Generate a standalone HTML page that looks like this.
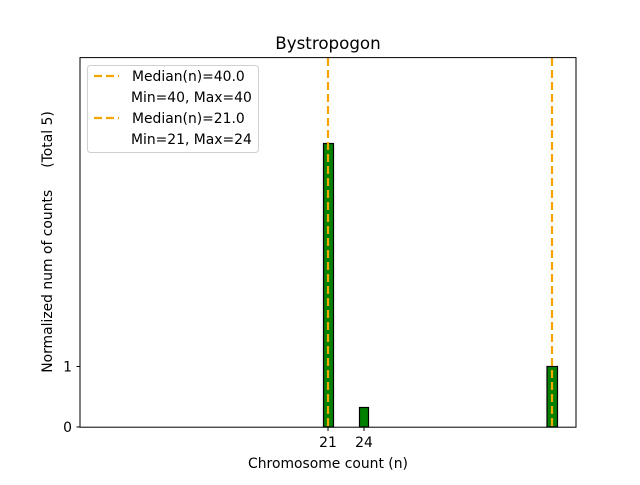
<!DOCTYPE html>
<html><head><meta charset="utf-8"><style>
html,body{margin:0;padding:0;background:#fff}
svg text{font-family:"DejaVu Sans","Liberation Sans",sans-serif;fill:#000}
</style></head><body>
<svg width="640" height="480" viewBox="0 0 640 480" xmlns="http://www.w3.org/2000/svg">
<rect width="640" height="480" fill="#fff"/>
<text x="328" y="49" font-size="16.7" text-anchor="middle">Bystropogon</text>
<!-- bars -->
<rect x="323.5" y="143.5" width="10" height="283.5" fill="#008000" stroke="#000" stroke-width="1.2"/>
<rect x="359.5" y="407.5" width="9" height="19.5" fill="#008000" stroke="#000" stroke-width="1.2"/>
<rect x="547" y="366.5" width="10.5" height="60.5" fill="#008000" stroke="#000" stroke-width="1.2"/>
<!-- median lines -->
<line x1="328" y1="58" x2="328" y2="427" stroke="#f5a700" stroke-width="2.2" stroke-dasharray="8,4"/>
<line x1="552" y1="58" x2="552" y2="427" stroke="#f5a700" stroke-width="2.2" stroke-dasharray="8,4"/>
<!-- axes -->
<rect x="80" y="57.6" width="496" height="369.6" fill="none" stroke="#000" stroke-width="1"/>
<!-- y ticks -->
<line x1="76.5" y1="427" x2="80" y2="427" stroke="#000"/>
<line x1="76.5" y1="366.5" x2="80" y2="366.5" stroke="#000"/>
<text x="72" y="432" font-size="13.9" text-anchor="end">0</text>
<text x="72" y="371.5" font-size="13.9" text-anchor="end">1</text>
<!-- x ticks -->
<line x1="328" y1="427" x2="328" y2="431" stroke="#000"/>
<line x1="364" y1="427" x2="364" y2="431" stroke="#000"/>
<text x="328" y="447" font-size="13.9" text-anchor="middle">21</text>
<text x="364" y="447" font-size="13.9" text-anchor="middle">24</text>
<text x="328" y="468" font-size="13.9" text-anchor="middle">Chromosome count (n)</text>
<text transform="translate(52,242) rotate(-90)" font-size="13.9" text-anchor="middle" xml:space="preserve">Normalized num of counts     (Total 5)</text>
<!-- legend -->
<rect x="87.5" y="65.5" width="171" height="87" rx="3" fill="#fff" stroke="#d0d0d0" stroke-width="1"/>
<line x1="94" y1="76" x2="119" y2="76" stroke="#f5a700" stroke-width="2.2" stroke-dasharray="8,4"/>
<line x1="94" y1="118" x2="119" y2="118" stroke="#f5a700" stroke-width="2.2" stroke-dasharray="8,4"/>
<text x="132" y="81" font-size="13.9">Median(n)=40.0</text>
<text x="131" y="102" font-size="13.9">Min=40, Max=40</text>
<text x="132" y="123" font-size="13.9">Median(n)=21.0</text>
<text x="131" y="144" font-size="13.9">Min=21, Max=24</text>
</svg>
</body></html>
